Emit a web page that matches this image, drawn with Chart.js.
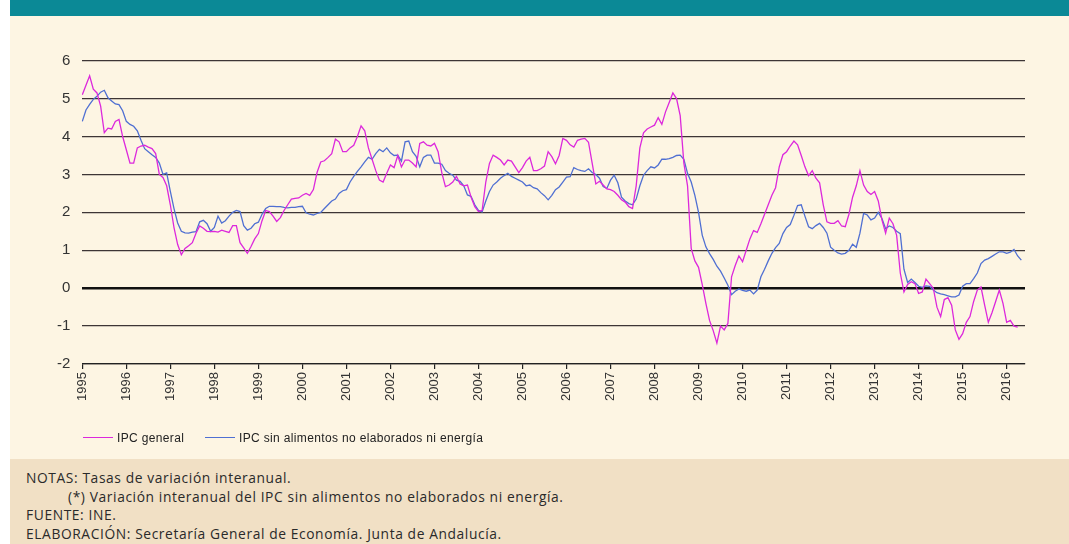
<!DOCTYPE html>
<html><head><meta charset="utf-8">
<script src="https://cdn.jsdelivr.net/npm/chart.js@4.4.1/dist/chart.umd.min.js"></script>
<style>
html,body{margin:0;padding:0;background:#fff;}
#wrap{position:relative;width:1069px;height:544px;overflow:hidden;background:#fff;}
#topbar{position:absolute;left:10px;top:0;width:1059px;height:16px;background:#0b8996;}
#cream{position:absolute;left:10px;top:16px;width:1059px;height:443px;background:#fdf5e3;}
#notes{position:absolute;left:10px;top:459px;width:1059px;height:85px;background:#f1e0c5;}
#cv{position:absolute;left:0;top:0;}
.lg{position:absolute;top:431px;font-family:"Liberation Sans",Arial,sans-serif;font-size:12px;letter-spacing:0.35px;color:#222;white-space:nowrap;line-height:14px;}
.lg span{display:inline-block;width:30px;height:1.3px;vertical-align:middle;margin-right:4px;position:relative;top:-1px;}
#notetext{position:absolute;left:26px;top:469px;font-family:"Open Sans",sans-serif;font-size:13.8px;letter-spacing:0.6px;color:#2a2a2a;line-height:18.5px;white-space:nowrap;}
#notetext .ind{padding-left:42px;}
</style>
</head><body>
<div id="wrap">
<div id="topbar"></div>
<div id="cream"></div>
<div id="notes"></div>
<canvas id="cv" width="1069" height="460"></canvas>
<div class="lg" style="left:83px"><span style="background:#dc28dc"></span>IPC general</div>
<div class="lg" style="left:205px"><span style="background:#4f6fd2"></span>IPC sin alimentos no elaborados ni energía</div>
<div id="notetext">
<div>NOTAS: Tasas de variación interanual.</div>
<div class="ind">(*) Variación interanual del IPC sin alimentos no elaborados ni energía.</div>
<div>FUENTE: INE.</div>
<div>ELABORACIÓN: Secretaría General de Economía. Junta de Andalucía.</div>
</div>
</div>
<script>
// Tick labels (years) and monthly categories
const years = ['1995','1996','1997','1998','1999','2000','2001','2002','2003','2004','2005','2006','2007','2008','2009','2010','2011','2012','2013','2014','2015','2016'];
const monthsPerYear = ['01','02','03','04','05','06','07','08','09','10','11','12'];
const lastMonths = 6; // Jan-Jun 2016 on the axis

// IPC general (tasa de variación interanual, %)
const ipcGeneral = [
 5.1,5.35,5.6,5.25,5.15,4.8,4.1,4.22,4.2,4.4,4.45,4.0,
 3.65,3.3,3.3,3.7,3.75,3.77,3.72,3.68,3.55,3.0,2.92,2.7,
 2.2,1.6,1.15,0.88,1.05,1.12,1.2,1.45,1.64,1.58,1.5,1.49,
 1.5,1.48,1.53,1.5,1.47,1.65,1.65,1.2,1.06,0.92,1.1,1.3,
 1.44,1.78,2.05,2.02,1.9,1.76,1.86,2.05,2.2,2.35,2.37,2.38,
 2.45,2.5,2.45,2.6,3.05,3.33,3.36,3.45,3.55,3.93,3.86,3.6,
 3.6,3.7,3.77,4.0,4.28,4.15,3.7,3.4,3.1,2.85,2.8,3.03,
 3.25,3.18,3.5,3.2,3.38,3.38,3.3,3.2,3.82,3.86,3.77,3.75,
 3.82,3.6,3.05,2.68,2.72,2.8,2.95,2.75,2.7,2.72,2.4,2.15,
 2.02,2.05,2.8,3.29,3.51,3.45,3.38,3.25,3.38,3.35,3.2,3.05,
 3.18,3.35,3.45,3.1,3.1,3.15,3.22,3.6,3.47,3.28,3.5,3.95,
 3.9,3.78,3.72,3.9,3.93,3.95,3.85,3.3,2.75,2.82,2.72,2.62,
 2.6,2.55,2.45,2.33,2.27,2.15,2.1,2.7,3.7,4.1,4.2,4.25,
 4.3,4.5,4.32,4.65,4.9,5.15,5.0,4.55,3.3,2.7,1.05,0.72,
 0.55,0.1,-0.4,-0.85,-1.12,-1.45,-1.0,-1.1,-0.93,0.3,0.6,0.85,
 0.7,1.0,1.3,1.52,1.47,1.7,1.95,2.2,2.45,2.65,3.2,3.52,
 3.6,3.75,3.88,3.78,3.5,3.2,2.97,3.1,2.9,2.78,2.2,1.75,
 1.71,1.71,1.78,1.64,1.62,1.95,2.4,2.7,3.1,2.72,2.55,2.47,
 2.55,2.3,1.8,1.45,1.85,1.7,1.4,0.4,-0.1,0.1,0.17,0.12,
 -0.14,-0.1,0.24,0.12,0.0,-0.5,-0.75,-0.3,-0.25,-0.45,-1.1,-1.35,
 -1.2,-0.9,-0.75,-0.35,-0.05,0.03,-0.45,-0.9,-0.65,-0.35,-0.05,-0.4,
 -0.9,-0.85,-1.0,-1.03
];

// IPC sin alimentos no elaborados ni energía (%)
const ipcSubyacente = [
 4.4,4.7,4.85,4.98,5.06,5.17,5.22,5.02,4.94,4.86,4.84,4.68,
 4.4,4.32,4.27,4.15,3.9,3.68,3.6,3.52,3.45,3.3,3.0,3.04,
 2.55,2.1,1.72,1.5,1.46,1.45,1.48,1.49,1.75,1.79,1.7,1.5,
 1.6,1.9,1.72,1.78,1.9,2.0,2.05,2.02,1.65,1.53,1.58,1.7,
 1.74,1.95,2.1,2.16,2.16,2.15,2.15,2.13,2.12,2.13,2.13,2.15,
 2.16,1.99,1.95,1.93,1.97,2.0,2.1,2.2,2.3,2.35,2.5,2.57,
 2.6,2.8,2.95,3.08,3.2,3.33,3.45,3.4,3.55,3.66,3.6,3.7,
 3.57,3.5,3.51,3.35,3.86,3.88,3.6,3.48,3.2,3.45,3.51,3.51,
 3.3,3.3,3.27,3.1,3.03,2.98,2.85,2.82,2.7,2.46,2.42,2.2,
 2.05,2.01,2.3,2.55,2.72,2.8,2.9,2.97,3.03,2.95,2.9,2.85,
 2.8,2.7,2.72,2.65,2.62,2.52,2.44,2.33,2.45,2.6,2.67,2.8,
 2.93,2.94,3.18,3.13,3.1,3.08,3.15,3.05,3.0,2.9,2.68,2.63,
 2.85,2.98,2.78,2.4,2.3,2.23,2.2,2.35,2.7,2.98,3.1,3.2,
 3.17,3.25,3.4,3.4,3.42,3.45,3.5,3.51,3.4,3.03,2.8,2.45,
 2.0,1.4,1.09,0.91,0.76,0.58,0.45,0.27,0.08,-0.17,-0.08,-0.02,
 -0.06,-0.08,-0.05,-0.15,-0.05,0.3,0.5,0.72,0.92,1.07,1.18,1.44,
 1.6,1.68,1.92,2.18,2.2,1.9,1.62,1.57,1.65,1.71,1.6,1.45,
 1.08,1.0,0.93,0.9,0.92,1.0,1.16,1.08,1.45,1.97,1.93,1.8,
 1.85,2.0,1.84,1.57,1.64,1.6,1.5,1.44,0.5,0.15,0.24,0.15,
 0.05,0.02,0.06,0.05,-0.05,-0.12,-0.15,-0.17,-0.2,-0.23,-0.23,-0.18,
 0.05,0.12,0.12,0.25,0.4,0.65,0.74,0.78,0.84,0.9,0.96,0.96,
 0.92,0.95,1.02,0.85,0.74
];

const categories = [];
years.forEach((y, yi) => {
  const n = (yi === years.length - 1) ? lastMonths : 12;
  for (let m = 0; m < n; m++) categories.push(y + '-' + monthsPerYear[m]);
});

const CANVAS_H = 460;
new Chart(document.getElementById('cv'), {
  type: 'line',
  data: {
    labels: categories,
    datasets: [
      { label: 'IPC general', data: ipcGeneral, borderColor: '#dc28dc', borderWidth: 1.3, pointRadius: 0, tension: 0, fill: false },
      { label: 'IPC sin alimentos no elaborados ni energía', data: ipcSubyacente, borderColor: '#4f6fd2', borderWidth: 1.3, pointRadius: 0, tension: 0, fill: false }
    ]
  },
  options: {
    responsive: false,
    animation: false,
    events: [],
    layout: { padding: { top: 60.7, right: 44, left: 0, bottom: 0 } },
    plugins: { legend: { display: false }, tooltip: { enabled: false } },
    scales: {
      x: {
        type: 'category',
        offset: false,
        afterFit: s => { s.height = CANVAS_H - 364; },
        border: { display: true, color: '#222', width: 1.3 },
        grid: { display: true, drawOnChartArea: false, drawTicks: true, tickLength: 5, color: '#222', lineWidth: 1.2 },
        ticks: {
          autoSkip: false, maxRotation: 90, minRotation: 90, padding: 3,
          color: '#333', font: { family: '"Liberation Sans", Arial, sans-serif', size: 13 },
          callback: function(v, i) { const l = categories[i]; return l.endsWith('-01') ? l.slice(0, 4) : null; }
        }
      },
      y: {
        min: -2, max: 6,
        afterFit: s => { s.width = 82.3; },
        border: { display: false },
        grid: {
          drawTicks: false,
          color: c => c.tick && c.tick.value === 0 ? '#111' : '#3d3535',
          lineWidth: c => c.tick && c.tick.value === 0 ? 2.6 : 1.3
        },
        ticks: { stepSize: 1, padding: 12, color: '#333', font: { family: '"Liberation Sans", Arial, sans-serif', size: 15 } }
      }
    }
  }
});
</script>
</body></html>
